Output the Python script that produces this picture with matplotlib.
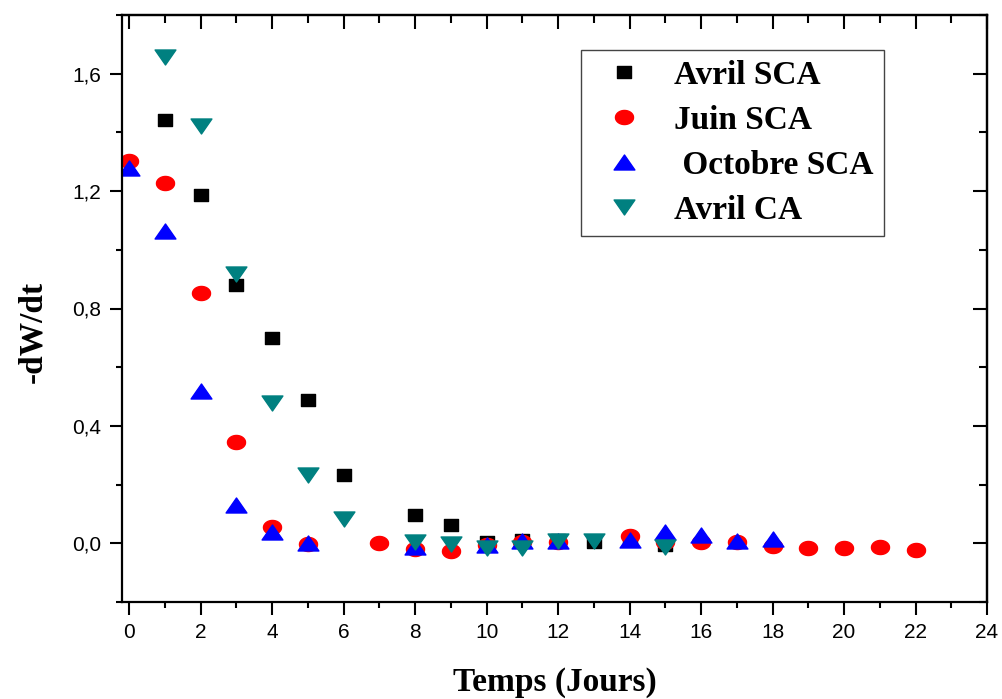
import numpy as np
import matplotlib
matplotlib.use("Agg")
import matplotlib.pyplot as plt
from matplotlib.path import Path
from matplotlib.ticker import MultipleLocator, FuncFormatter

# datos
dias_avril_sca = [1, 2, 3, 4, 5, 6, 8, 9, 10, 11, 12, 13, 14, 15]
avril_sca = [1.442, 1.186, 0.881, 0.699, 0.488, 0.232, 0.095, 0.062, 0.004, 0.010, 0.010, 0.005, 0.010, -0.006]

dias_juin_sca = [0, 1, 2, 3, 4, 5, 7, 8, 9, 10, 11, 12, 14, 15, 16, 17, 18, 19, 20, 21, 22]
juin_sca = [1.303, 1.226, 0.852, 0.344, 0.056, -0.003, 0.000, -0.020, -0.026, -0.005, 0.005, 0.005,
            0.025, 0.003, 0.005, 0.005, -0.009, -0.017, -0.017, -0.013, -0.022]

dias_octobre_sca = [0, 1, 2, 3, 4, 5, 8, 10, 11, 12, 14, 15, 16, 17, 18]
octobre_sca = [1.28, 1.065, 0.52, 0.13, 0.039, 0.002, -0.014, -0.006, 0.008, 0.008, 0.011, 0.039,
               0.028, 0.008, 0.016]

dias_avril_ca = [1, 2, 3, 4, 5, 6, 8, 9, 10, 11, 12, 13, 15]
avril_ca = [1.656, 1.423, 0.917, 0.477, 0.232, 0.084, 0.004, -0.003, -0.017, -0.015, 0.008, 0.008, -0.011]

etiquetas = ['Avril SCA', 'Juin SCA', ' Octobre SCA', 'Avril CA']


def marcador(vertices):
    return Path(np.array(vertices), closed=True)


# marcadores algo aplastados, como en el original
cuadrado = marcador([[-0.5, -0.43], [0.5, -0.43], [0.5, 0.43], [-0.5, 0.43], [-0.5, -0.43]])
t = np.linspace(0, 2 * np.pi, 60)
elipse = Path(np.column_stack([0.5 * np.cos(t), 0.39 * np.sin(t)]))
tri_arriba = marcador([[-0.5, -0.36], [0.5, -0.36], [0.0, 0.36], [-0.5, -0.36]])
tri_abajo = marcador([[-0.5, 0.36], [0.5, 0.36], [0.0, -0.36], [-0.5, 0.36]])

fig = plt.figure(figsize=(10.02, 6.99), dpi=100)
ax = fig.add_axes([122 / 1002, 1 - 602 / 699, 865 / 1002, 587 / 699])

ax.plot(dias_avril_sca, avril_sca, linestyle='none', marker=cuadrado, markersize=10.5,
        color='black', label=etiquetas[0])
ax.plot(dias_juin_sca, juin_sca, linestyle='none', marker=elipse, markersize=13,
        color='#ff0000', label=etiquetas[1])
ax.plot(dias_octobre_sca, octobre_sca, linestyle='none', marker=tri_arriba, markersize=15,
        color='#0000ff', label=etiquetas[2])
ax.plot(dias_avril_ca, avril_ca, linestyle='none', marker=tri_abajo, markersize=15,
        color='#008080', label=etiquetas[3])

ax.set_xlim(-0.2, 24)
ax.set_ylim(-0.2, 1.8)
ax.xaxis.set_major_locator(MultipleLocator(2))
ax.xaxis.set_minor_locator(MultipleLocator(1))
ax.yaxis.set_major_locator(MultipleLocator(0.4))
ax.yaxis.set_minor_locator(MultipleLocator(0.2))
ax.yaxis.set_major_formatter(FuncFormatter(lambda v, p: ('%.1f' % v).replace('.', ',')))

ax.tick_params(which='major', direction='out', length=9, width=1.5, pad=6,
               labelsize=15, labelfontfamily='Liberation Sans')
ax.tick_params(which='minor', direction='out', length=4.5, width=1.5)
for lado in ax.spines.values():
    lado.set_linewidth(1.6)

# ejes de arriba y derecha con marcas hacia adentro
arriba = ax.secondary_xaxis('top')
derecha = ax.secondary_yaxis('right')
arriba.xaxis.set_major_locator(MultipleLocator(2))
arriba.xaxis.set_minor_locator(MultipleLocator(1))
derecha.yaxis.set_major_locator(MultipleLocator(0.4))
derecha.yaxis.set_minor_locator(MultipleLocator(0.2))
for sec in (arriba, derecha):
    sec.tick_params(which='major', direction='in', length=10, width=1.5,
                    labeltop=False, labelright=False)
    sec.tick_params(which='minor', direction='in', length=6, width=1.5)
    for lado in sec.spines.values():
        lado.set_linewidth(1.6)

fuente_titulos = {'family': 'Liberation Serif', 'weight': 'bold', 'size': 24}
ax.set_xlabel('Temps (Jours)', fontdict=fuente_titulos, labelpad=18)
ax.set_ylabel('-dW/dt', fontdict=fuente_titulos)
ax.yaxis.set_label_coords(-0.085, 0.46)

ley = ax.legend(loc='upper left', bbox_to_anchor=(581 / 1002, 1 - 50 / 699),
                bbox_transform=fig.transFigure, borderaxespad=0, frameon=True,
                fancybox=False, edgecolor='#444444', framealpha=1,
                prop={'family': 'Liberation Serif', 'weight': 'bold', 'size': 24},
                handlelength=2.0, handletextpad=0.5, labelspacing=0.42, borderpad=0.3)
ley.get_frame().set_linewidth(1.0)

plt.savefig('out.png', dpi=100)
